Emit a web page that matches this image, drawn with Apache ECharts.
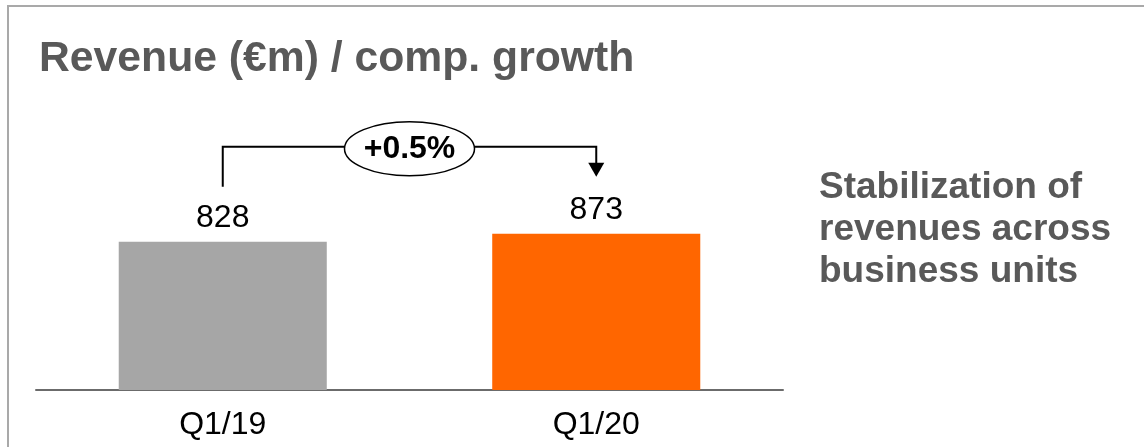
<!DOCTYPE html>
<html>
<head>
<meta charset="utf-8">
<script src="https://cdn.jsdelivr.net/npm/echarts@6/dist/echarts.min.js"></script>
<style>
  html, body { margin: 0; padding: 0; background: #fff; }
  #chart { width: 1144px; height: 447px; }
</style>
</head>
<body>
<div id="chart"></div>
<script>
// Quarterly revenue in € millions
const categories = ['Q1/19', 'Q1/20'];
const revenue = [828, 873];
const barColors = ['#A6A6A6', '#FF6600'];
const growthLabel = '+0.5%';
const titleText = 'Revenue (€m) / comp. growth';
const noteLines = ['Stabilization of', 'revenues across', 'business units'];

const FONT = '"Liberation Sans", Arial, sans-serif';
const GREY_TEXT = '#595959';

const chart = echarts.init(document.getElementById('chart'), null, { renderer: 'canvas' });

chart.setOption({
  animation: false,
  backgroundColor: '#fff',
  title: {
    text: titleText,
    left: 34,
    top: 33,
    textStyle: { fontFamily: FONT, fontSize: 42.7, fontWeight: 'bold', color: GREY_TEXT }
  },
  grid: { left: 36, right: 361, top: 211, bottom: 57 },
  xAxis: {
    type: 'category',
    data: categories,
    axisLine: { lineStyle: { color: '#6B6B6B', width: 2 } },
    axisTick: { show: false },
    axisLabel: { fontFamily: FONT, fontSize: 32, color: '#000', margin: 19 }
  },
  yAxis: {
    type: 'value',
    min: 0,
    max: 1000,
    show: false,
    splitLine: { show: false }
  },
  series: [{
    type: 'bar',
    data: revenue.map((v, i) => ({ value: v, itemStyle: { color: barColors[i] } })),
    barWidth: '55.7%',
    label: {
      show: true,
      position: 'top',
      distance: 8,
      fontFamily: FONT,
      fontSize: 32,
      color: '#000'
    }
  }]
});

// Growth bracket with ellipse badge, anchored to the bars
const p0 = chart.convertToPixel({ seriesIndex: 0 }, [0, revenue[0]]);
const p1 = chart.convertToPixel({ seriesIndex: 0 }, [1, revenue[1]]);
const bracketY = Math.min(p0[1], p1[1]) - 87;
const cx = (p0[0] + p1[0]) / 2;
const rx = 65, ry = 27;
const tipY = p1[1] - 57;
const lineStyle = { stroke: '#000', lineWidth: 2, fill: null };

chart.setOption({
  graphic: [
    {
      type: 'polyline',
      shape: { points: [[8, 460], [8, 6], [1160, 6]] },
      style: { stroke: '#A9A9A9', lineWidth: 2, fill: null },
      silent: true
    },
    {
      type: 'polyline',
      shape: { points: [[p0[0], p0[1] - 55], [p0[0], bracketY], [cx - rx, bracketY]] },
      style: lineStyle
    },
    {
      type: 'polyline',
      shape: { points: [[cx + rx, bracketY], [p1[0], bracketY], [p1[0], tipY - 13]] },
      style: lineStyle
    },
    {
      type: 'polygon',
      shape: { points: [[p1[0] - 8, tipY - 14], [p1[0] + 8, tipY - 14], [p1[0], tipY]] },
      style: { fill: '#000' }
    },
    {
      type: 'ellipse',
      shape: { cx: cx, cy: bracketY + 2, rx: rx, ry: ry },
      style: { stroke: '#000', lineWidth: 1.5, fill: '#fff' }
    },
    {
      type: 'text',
      x: cx,
      y: bracketY + 2,
      style: {
        text: growthLabel,
        fontFamily: FONT,
        fontSize: 32,
        fontWeight: 'bold',
        fill: '#000',
        align: 'center',
        verticalAlign: 'middle'
      }
    },
    {
      type: 'text',
      x: 819,
      y: 167,
      style: {
        text: noteLines.join('\n'),
        fontFamily: FONT,
        fontSize: 37,
        fontWeight: 'bold',
        lineHeight: 42,
        fill: GREY_TEXT,
        align: 'left',
        verticalAlign: 'top'
      }
    }
  ]
});
</script>
</body>
</html>
